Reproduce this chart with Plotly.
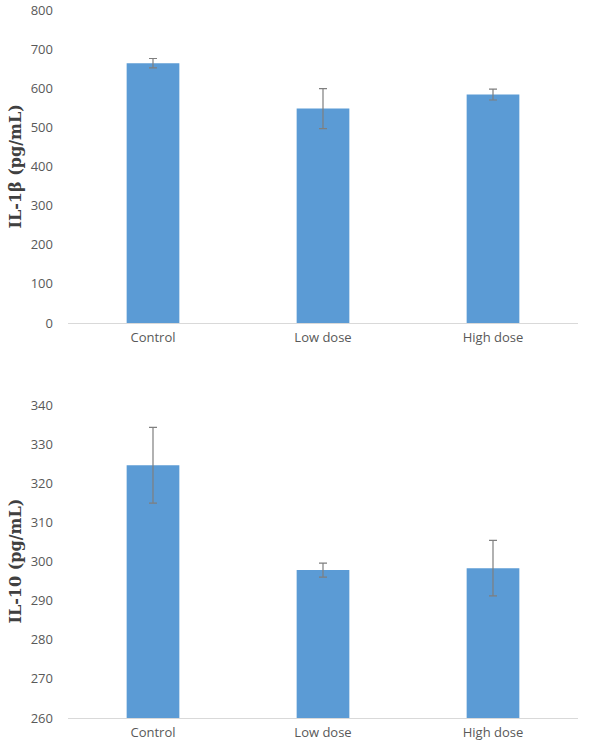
import plotly.graph_objects as go
from plotly.subplots import make_subplots

categories = ["Control", "Low dose", "High dose"]
il1b_values = [664, 548, 584]
il1b_errors = [12, 51, 14]
il10_values = [324.6, 297.8, 298.3]
il10_errors = [9.7, 1.8, 7.1]

il1b_ticks = list(range(0, 801, 100))
il10_ticks = list(range(260, 341, 10))

BAR = "#5B9BD5"
ERR = "#7F7F7F"
TXT = "#595959"
FONT = "Open Sans"

W, H = 592, 746
L, R, T, B = 68, 14, 10, 28

fig = make_subplots(rows=2, cols=1, shared_xaxes=False, vertical_spacing=0.1)

fig.add_trace(go.Bar(x=categories, y=il1b_values, marker=dict(color=BAR, line=dict(width=0)),
                     error_y=dict(type="data", array=il1b_errors, color=ERR, thickness=1.2, width=4),
                     showlegend=False), row=1, col=1)
fig.add_trace(go.Bar(x=categories, y=il10_values, marker=dict(color=BAR, line=dict(width=0)),
                     error_y=dict(type="data", array=il10_errors, color=ERR, thickness=1.2, width=4),
                     showlegend=False), row=2, col=1)

H_PLOT = H - T - B
plot_bottom = H - B
top_dom = [(plot_bottom - 323) / H_PLOT, 1.0]
bot_dom = [0.0, (plot_bottom - 405) / H_PLOT]

axis_font = dict(family=FONT, size=13, color=TXT)

fig.update_layout(
    width=W, height=H,
    margin=dict(l=L, r=R, t=T, b=B, autoexpand=False),
    paper_bgcolor="white", plot_bgcolor="white",
    bargap=0.69,
    font=dict(family=FONT, color=TXT),
    yaxis=dict(domain=top_dom, range=[0, 800], tickvals=il1b_ticks, showgrid=False, zeroline=False,
               showline=False, tickfont=axis_font, ticks="", ticklabelstandoff=14, automargin=False),
    yaxis2=dict(domain=bot_dom, range=[260, 340], tickvals=il10_ticks, showgrid=False, zeroline=False,
                showline=False, tickfont=axis_font, ticks="", ticklabelstandoff=14, automargin=False),
    xaxis=dict(showline=True, linecolor="#D9D9D9", linewidth=1, showgrid=False, ticks="",
               tickfont=axis_font, anchor="y", automargin=False, ticklabelstandoff=2),
    xaxis2=dict(showline=True, linecolor="#D9D9D9", linewidth=1, showgrid=False, ticks="",
                tickfont=axis_font, anchor="y2", automargin=False, ticklabelstandoff=2),
)

plot_w = W - L - R
title_font = dict(family="DejaVu Serif", size=16, color="#404040")
fig.add_annotation(text="<b>IL-1β (pg/mL)</b>", textangle=-90, xref="paper", yref="paper",
                   x=(15 - L) / plot_w, y=(top_dom[0] + top_dom[1]) / 2, xanchor="center",
                   yanchor="middle", showarrow=False, font=title_font)
fig.add_annotation(text="<b>IL-10 (pg/mL)</b>", textangle=-90, xref="paper", yref="paper",
                   x=(15 - L) / plot_w, y=(bot_dom[0] + bot_dom[1]) / 2, xanchor="center",
                   yanchor="middle", showarrow=False, font=title_font)

# remove the default 8px page margin so the figure fills the window exactly
fig.write_html("out.html", config={"displayModeBar": False},
               post_script="document.body.style.margin='0px';")
